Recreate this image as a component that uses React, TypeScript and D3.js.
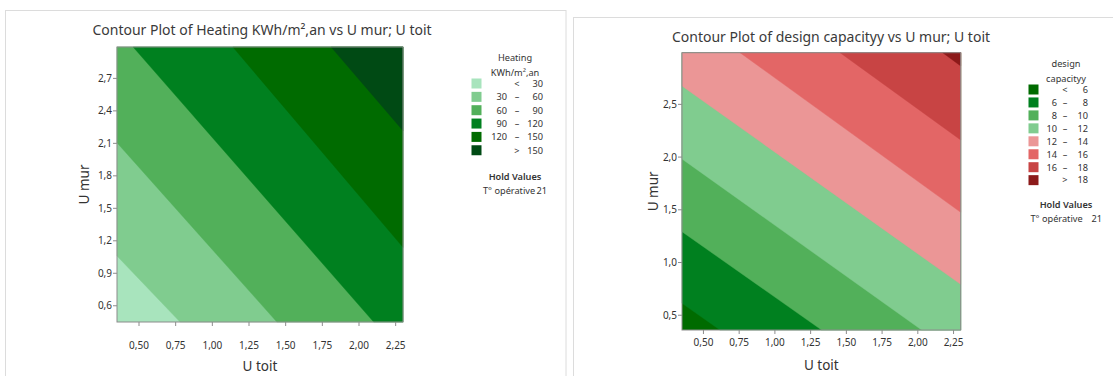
import React from 'react';
import * as d3 from 'd3';

// axis ticks (shared by both plots on X)
const uToitTicks = [0.5, 0.75, 1.0, 1.25, 1.5, 1.75, 2.0, 2.25];
const uToitRange = [0.35, 2.3];

// heating plot
const heatUMurTicks = [0.6, 0.9, 1.2, 1.5, 1.8, 2.1, 2.4, 2.7];
const heatUMurRange = [0.45, 2.99];
const heatLevels = [30, 60, 90, 120, 150];
const heatColors = ['#a8e4bd', '#80cc8f', '#52b05a', '#00801f', '#006b00', '#004a14'];
// where each contour line crosses the plot frame, [U toit, U mur]
const heatContours = [
  [[0.35, 1.06], [0.78, 0.45]],
  [[0.35, 2.106], [1.44, 0.45]],
  [[0.46, 2.99], [2.1, 0.45]],
  [[1.14, 2.99], [2.3, 1.14]],
  [[1.81, 2.99], [2.3, 2.217]]
];

// design capacity plot
const capUMurTicks = [0.5, 1.0, 1.5, 2.0, 2.5];
const capUMurRange = [0.36, 2.99];
const capLevels = [6, 8, 10, 12, 14, 16, 18];
const capColors = ['#006b00', '#00801f', '#52b05a', '#80cc8f', '#eb9696', '#e36666', '#c84444', '#8c1a1a'];
const capContours = [
  [[0.35, 0.613], [0.616, 0.36]],
  [[0.35, 1.292], [1.327, 0.36]],
  [[0.35, 1.982], [2.027, 0.36]],
  [[0.35, 2.674], [2.3, 0.793]],
  [[0.756, 2.99], [2.3, 1.476]],
  [[1.456, 2.99], [2.3, 2.162]],
  [[2.174, 2.99], [2.3, 2.864]]
];

const holdLabel = 'T° opérative';
const holdValue = 21;

const FONT = '"Noto Sans", "Open Sans", sans-serif';
const TEXT = '#333';

const comma = (fmt) => (v) => d3.format(fmt)(v).replace('.', ',');

// keep the part of a polygon on the high side of a line (side of hi point)
function clipHalf(poly, a, b, hi) {
  const side = (p) => (b[0] - a[0]) * (p[1] - a[1]) - (b[1] - a[1]) * (p[0] - a[0]);
  const s0 = Math.sign(side(hi));
  const inside = (p) => side(p) * s0 >= 0;
  const out = [];
  for (let i = 0; i < poly.length; i++) {
    const cur = poly[i];
    const prev = poly[(i + poly.length - 1) % poly.length];
    const cin = inside(cur);
    const pin = inside(prev);
    if (cin !== pin) {
      const sp = side(prev);
      const sc = side(cur);
      const t = sp / (sp - sc);
      out.push([prev[0] + t * (cur[0] - prev[0]), prev[1] + t * (cur[1] - prev[1])]);
    }
    if (cin) out.push(cur);
  }
  return out;
}

function ContourPanel({frame, title, titleX, titleY, plot, off, yRange, yTicks, levels, colors, contours, legend}) {
  const x = d3.scaleLinear().domain(uToitRange).range([plot.left, plot.right]);
  const y = d3.scaleLinear().domain(yRange).range([plot.bottom, plot.top]);
  const rect = [
    [plot.left, plot.top], [plot.right, plot.top],
    [plot.right, plot.bottom], [plot.left, plot.bottom]
  ];
  const hi = [plot.right, plot.top];
  const line = d3.line();

  const bands = contours.map((c, i) => {
    const a = [x(c[0][0]), y(c[0][1])];
    const b = [x(c[1][0]), y(c[1][1])];
    return {poly: clipHalf(rect, a, b, hi), color: colors[i + 1]};
  });

  const labels = colors.map((c, i) => {
    if (i === 0) return {lo: '', sep: '<', hi: levels[0]};
    if (i === colors.length - 1) return {lo: '', sep: '>', hi: levels[levels.length - 1]};
    return {lo: levels[i - 1], sep: '–', hi: levels[i]};
  });

  const L = legend;
  return (
    <g fontFamily={FONT} fill={TEXT}>
      <rect x={frame.x} y={frame.y} width={frame.w} height={frame.h} fill="#fff" stroke="#dcdcdc" />
      <text x={titleX} y={titleY} textAnchor="middle" fontSize={14} fill="#3a3a3a">{title}</text>

      <rect x={plot.left} y={plot.top} width={plot.right - plot.left} height={plot.bottom - plot.top} fill={colors[0]} />
      {bands.map((b, i) => (
        <path key={i} d={line(b.poly) + 'Z'} fill={b.color} stroke={b.color} strokeWidth={0.4} />
      ))}
      <rect x={plot.left} y={plot.top} width={plot.right - plot.left} height={plot.bottom - plot.top} fill="none" stroke="#8c8c8c" />

      {uToitTicks.map((t) => (
        <g key={t}>
          <line x1={x(t)} x2={x(t)} y1={plot.bottom} y2={plot.bottom + 4} stroke="#8c8c8c" />
          <text x={x(t)} y={plot.bottom + off.xTick} textAnchor="middle" fontSize={10}>{comma('.2f')(t)}</text>
        </g>
      ))}
      {yTicks.map((t) => (
        <g key={t}>
          <line x1={plot.left - 4} x2={plot.left} y1={y(t)} y2={y(t)} stroke="#8c8c8c" />
          <text x={plot.left - 5} y={y(t) + 3.5} textAnchor="end" fontSize={10}>{comma('.1f')(t)}</text>
        </g>
      ))}
      <text x={(plot.left + plot.right) / 2} y={plot.bottom + off.xLabel} textAnchor="middle" fontSize={13.5}>U toit</text>
      <text transform={`translate(${plot.left - off.yLabel},${(plot.top + plot.bottom) / 2}) rotate(-90)`} textAnchor="middle" fontSize={13.5}>U mur</text>

      <g fontSize={9.2}>
        {L.head.map((h, i) => (
          <text key={h} x={L.cx} y={L.headY + i * 14.5} textAnchor="middle">{h}</text>
        ))}
        {labels.map((lb, i) => {
          const cy = L.rowY + i * L.step;
          return (
            <g key={i}>
              <rect x={L.sw} y={cy - 5} width={10} height={10} fill={colors[i]} />
              <text x={L.loX} y={cy + 3.3} textAnchor="end">{lb.lo}</text>
              <text x={L.sepX} y={cy + 3.3} textAnchor="middle">{lb.sep}</text>
              <text x={L.hiX} y={cy + 3.3} textAnchor="end">{lb.hi}</text>
            </g>
          );
        })}
        <text x={L.cx} y={L.holdY} textAnchor="middle" fontWeight={600}>Hold Values</text>
        <text x={L.holdX} y={L.holdY + 14}>{holdLabel}</text>
        <text x={L.holdValX} y={L.holdY + 14} textAnchor="end">{holdValue}</text>
      </g>
    </g>
  );
}

export default function App() {
  return (
    <div style={{position: 'fixed', left: 0, top: 0}}>
      <svg width={1113} height={376} style={{display: 'block', background: '#fff'}}>
        <ContourPanel
          frame={{x: 5.5, y: 10.5, w: 560.5, h: 380}}
          title="Contour Plot of Heating KWh/m²,an vs U mur; U toit"
          titleX={262}
          titleY={35}
          plot={{left: 117, right: 403, top: 47, bottom: 322}}
          off={{xTick: 27, xLabel: 49, yLabel: 28}}
          yRange={heatUMurRange}
          yTicks={heatUMurTicks}
          levels={heatLevels}
          colors={heatColors}
          contours={heatContours}
          legend={{
            head: ['Heating', 'KWh/m²,an'], cx: 515, headY: 61,
            sw: 471.5, rowY: 83.5, step: 13.35,
            loX: 507, sepX: 517, hiX: 543,
            holdY: 180, holdX: 483, holdValX: 547
          }}
        />
        <ContourPanel
          frame={{x: 573.5, y: 17.5, w: 560, h: 380}}
          title="Contour Plot of design capacityy vs U mur; U toit"
          titleX={831}
          titleY={42}
          plot={{left: 682, right: 960.7, top: 52.7, bottom: 330}}
          off={{xTick: 16, xLabel: 40, yLabel: 24}}
          yRange={capUMurRange}
          yTicks={capUMurTicks}
          levels={capLevels}
          colors={capColors}
          contours={capContours}
          legend={{
            head: ['design', 'capacityy'], cx: 1066, headY: 67,
            sw: 1028.5, rowY: 89.5, step: 12.95,
            loX: 1057, sepX: 1065, hiX: 1088,
            holdY: 208, holdX: 1030.5, holdValX: 1102
          }}
        />
      </svg>
    </div>
  );
}
